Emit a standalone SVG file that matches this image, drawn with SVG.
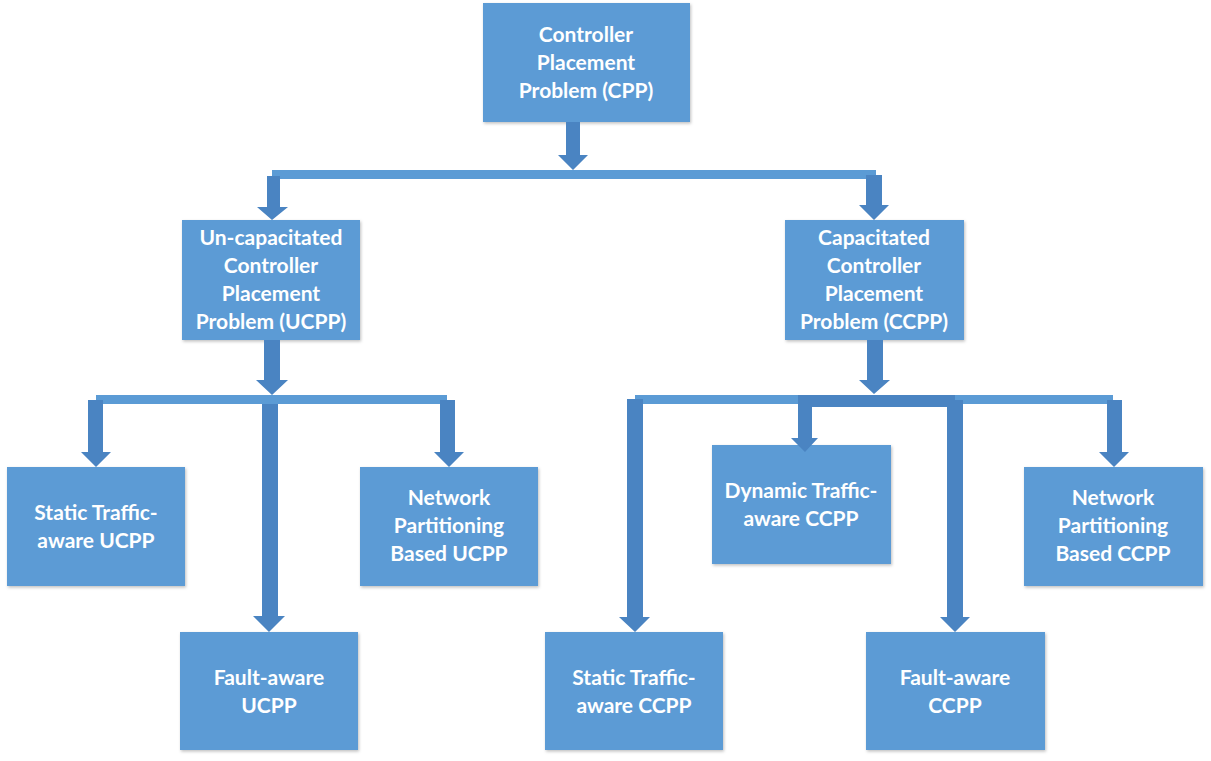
<svg xmlns="http://www.w3.org/2000/svg" width="1211" height="761" viewBox="0 0 1211 761">
<defs>
<filter id="sh" x="-10%" y="-10%" width="120%" height="120%">
<feDropShadow dx="1" dy="1.5" stdDeviation="1.5" flood-color="#000" flood-opacity="0.25"/>
</filter>
<style>
.box{fill:#5b9bd5;filter:url(#sh);}
.bar{fill:#5b9bd5;}
.arr{fill:#4a84c2;}
text{font-family:Lato,"Liberation Sans",sans-serif;font-weight:bold;font-size:21px;fill:#ffffff;text-anchor:middle;}
</style>
</defs>
<rect width="1211" height="761" fill="#ffffff"/>
<g id="cpp"><rect class="box" x="483" y="3" width="207" height="119"/>
<text x="586" y="42">Controller</text><text x="586" y="70">Placement</text><text x="586" y="98">Problem (CPP)</text></g>
<g id="ucpp"><rect class="box" x="182" y="220" width="178" height="120"/>
<text x="271" y="245">Un-capacitated</text><text x="271" y="273">Controller</text><text x="271" y="301">Placement</text><text x="271" y="329">Problem (UCPP)</text></g>
<g id="ccpp"><rect class="box" x="785" y="220" width="179" height="120"/>
<text x="874" y="245">Capacitated</text><text x="874" y="273">Controller</text><text x="874" y="301">Placement</text><text x="874" y="329">Problem (CCPP)</text></g>
<g id="static-ucpp"><rect class="box" x="7" y="467" width="178" height="119"/>
<text x="96" y="520">Static Traffic-</text><text x="96" y="548">aware UCPP</text></g>
<g id="network-ucpp"><rect class="box" x="360" y="467" width="178" height="119"/>
<text x="449" y="505">Network</text><text x="449" y="533">Partitioning</text><text x="449" y="561">Based UCPP</text></g>
<g id="fault-ucpp"><rect class="box" x="180" y="632" width="178" height="118"/>
<text x="269" y="685">Fault-aware</text><text x="269" y="713">UCPP</text></g>
<g id="dynamic-ccpp"><rect class="box" x="712" y="445" width="179" height="119"/>
<text x="801" y="498">Dynamic Traffic-</text><text x="801" y="526">aware CCPP</text></g>
<g id="network-ccpp"><rect class="box" x="1024" y="467" width="179" height="119"/>
<text x="1113" y="505">Network</text><text x="1113" y="533">Partitioning</text><text x="1113" y="561">Based CCPP</text></g>
<g id="static-ccpp"><rect class="box" x="545" y="632" width="178" height="118"/>
<text x="634" y="685">Static Traffic-</text><text x="634" y="713">aware CCPP</text></g>
<g id="fault-ccpp"><rect class="box" x="866" y="632" width="179" height="118"/>
<text x="955" y="685">Fault-aware</text><text x="955" y="713">CCPP</text></g>
<g id="connectors">
<polygon class="arr" points="566,122 580,122 580,155 588,155 573,170 558,155 566,155"/>
<rect class="bar" x="272" y="170" width="604" height="9"/>
<polygon class="arr" points="267,176 280,176 280,207 288,207 272,220 257,207 267,207"/>
<polygon class="arr" points="866,175 882,175 882,205 889,205 874,220 859,205 866,205"/>
<polygon class="arr" points="264,340 280,340 280,380 288,380 272,395 256,380 264,380"/>
<rect class="bar" x="96" y="395" width="351" height="9"/>
<polygon class="arr" points="88,400 103,400 103,452 111,452 96,467 81,452 88,452"/>
<polygon class="arr" points="262,404 278,404 278,616 285,616 269,632 253,616 262,616"/>
<polygon class="arr" points="440,400 455,400 455,452 464,452 449,467 434,452 440,452"/>
<polygon class="arr" points="867,340 883,340 883,380 890,380 874,394 859,380 867,380"/>
<rect class="bar" x="635" y="395" width="478" height="9"/>
<polygon class="arr" points="627,399 643,399 643,617 650,617 635,632 619,617 627,617"/>
<polygon class="arr" points="798,395 955,395 955,407 812,407 812,438 818,438 805,452 791,438 798,438"/>
<polygon class="arr" points="947,400 963,400 963,617 970,617 955,632 940,617 947,617"/>
<polygon class="arr" points="1107,400 1122,400 1122,452 1129,452 1114,467 1099,452 1107,452"/>
</g>
</svg>
